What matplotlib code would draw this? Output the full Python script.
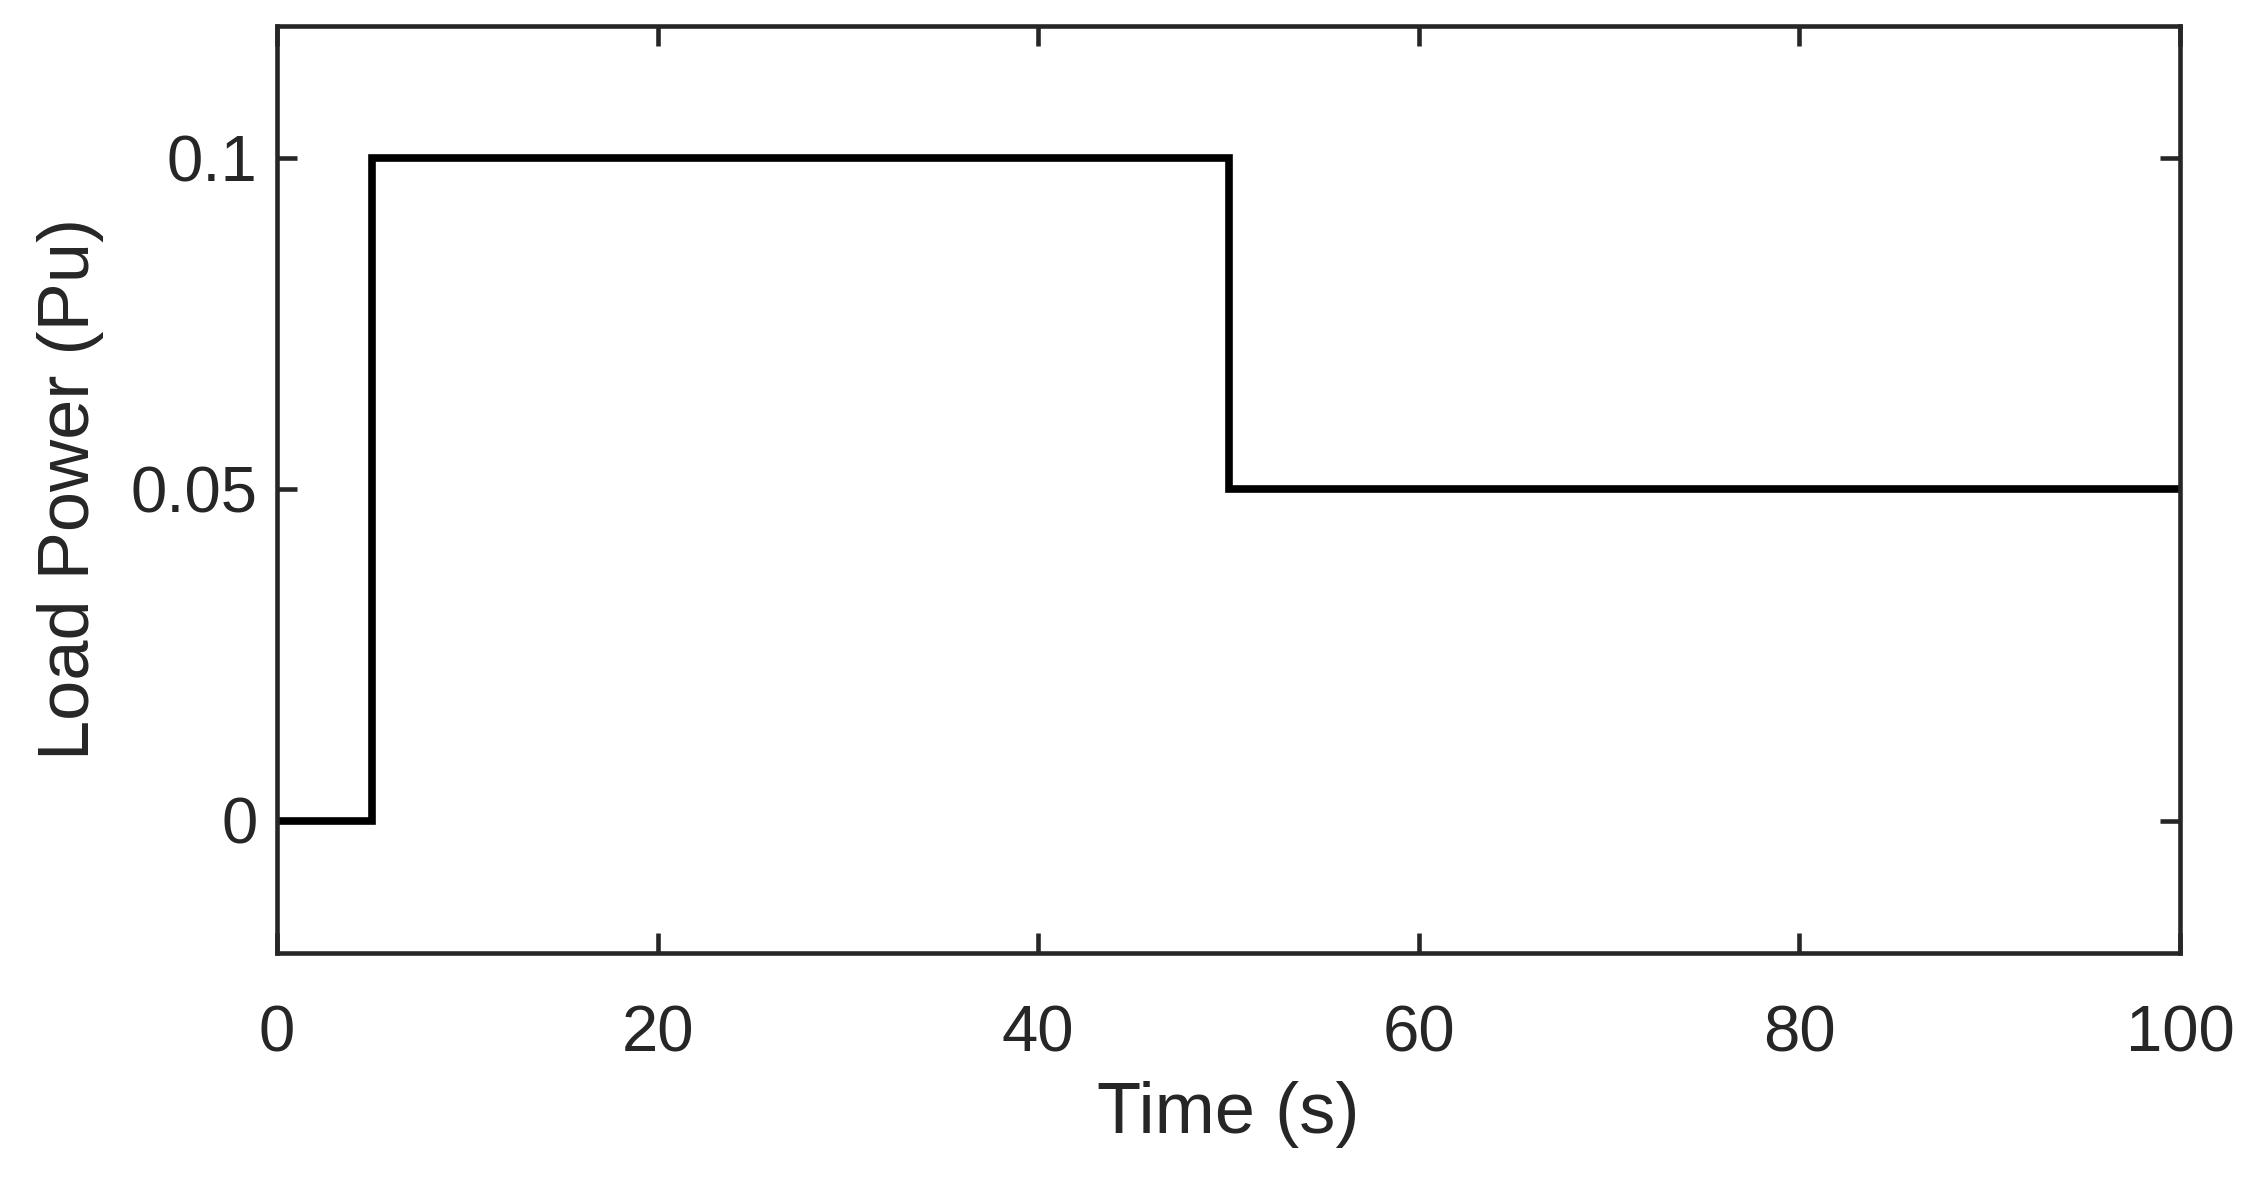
import matplotlib
matplotlib.use("Agg")
import matplotlib.pyplot as plt

# Data (step load profile)
time_s = [0, 5, 5, 50, 50, 100]
load_pu = [0, 0, 0.1, 0.1, 0.05, 0.05]
xticks = [0, 20, 40, 60, 80, 100]
yticks = [0, 0.05, 0.1]
ytick_labels = ["0", "0.05", "0.1"]

plt.rcParams['font.family'] = ['Liberation Sans', 'DejaVu Sans']

fig = plt.figure(figsize=(22.52, 11.81), dpi=100)
ax = fig.add_axes([277/2252, 1 - 953/1181, (2180-277)/2252, (953-25.5)/1181])

ax.plot(time_s, load_pu, color='black', linewidth=5.5, solid_joinstyle='miter')

ax.set_xlim(0, 100)
ax.set_ylim(-0.02, 0.12)
ax.set_xticks(xticks)
ax.set_yticks(yticks)
ax.set_yticklabels(ytick_labels)

c = '#262626'
for s in ax.spines.values():
    s.set_linewidth(3.3)
    s.set_color(c)
ax.tick_params(direction='in', length=14.5, width=3.3, color=c, labelcolor=c,
               labelsize=47, top=True, right=True, pad=14)
ax.tick_params(axis='x', pad=37)
ax.set_xlabel('Time (s)', fontsize=52, color=c, labelpad=12)
ax.set_ylabel('Load Power (Pu)', fontsize=52, color=c, labelpad=19)

fig.savefig('out.png', dpi=100, facecolor='white')
